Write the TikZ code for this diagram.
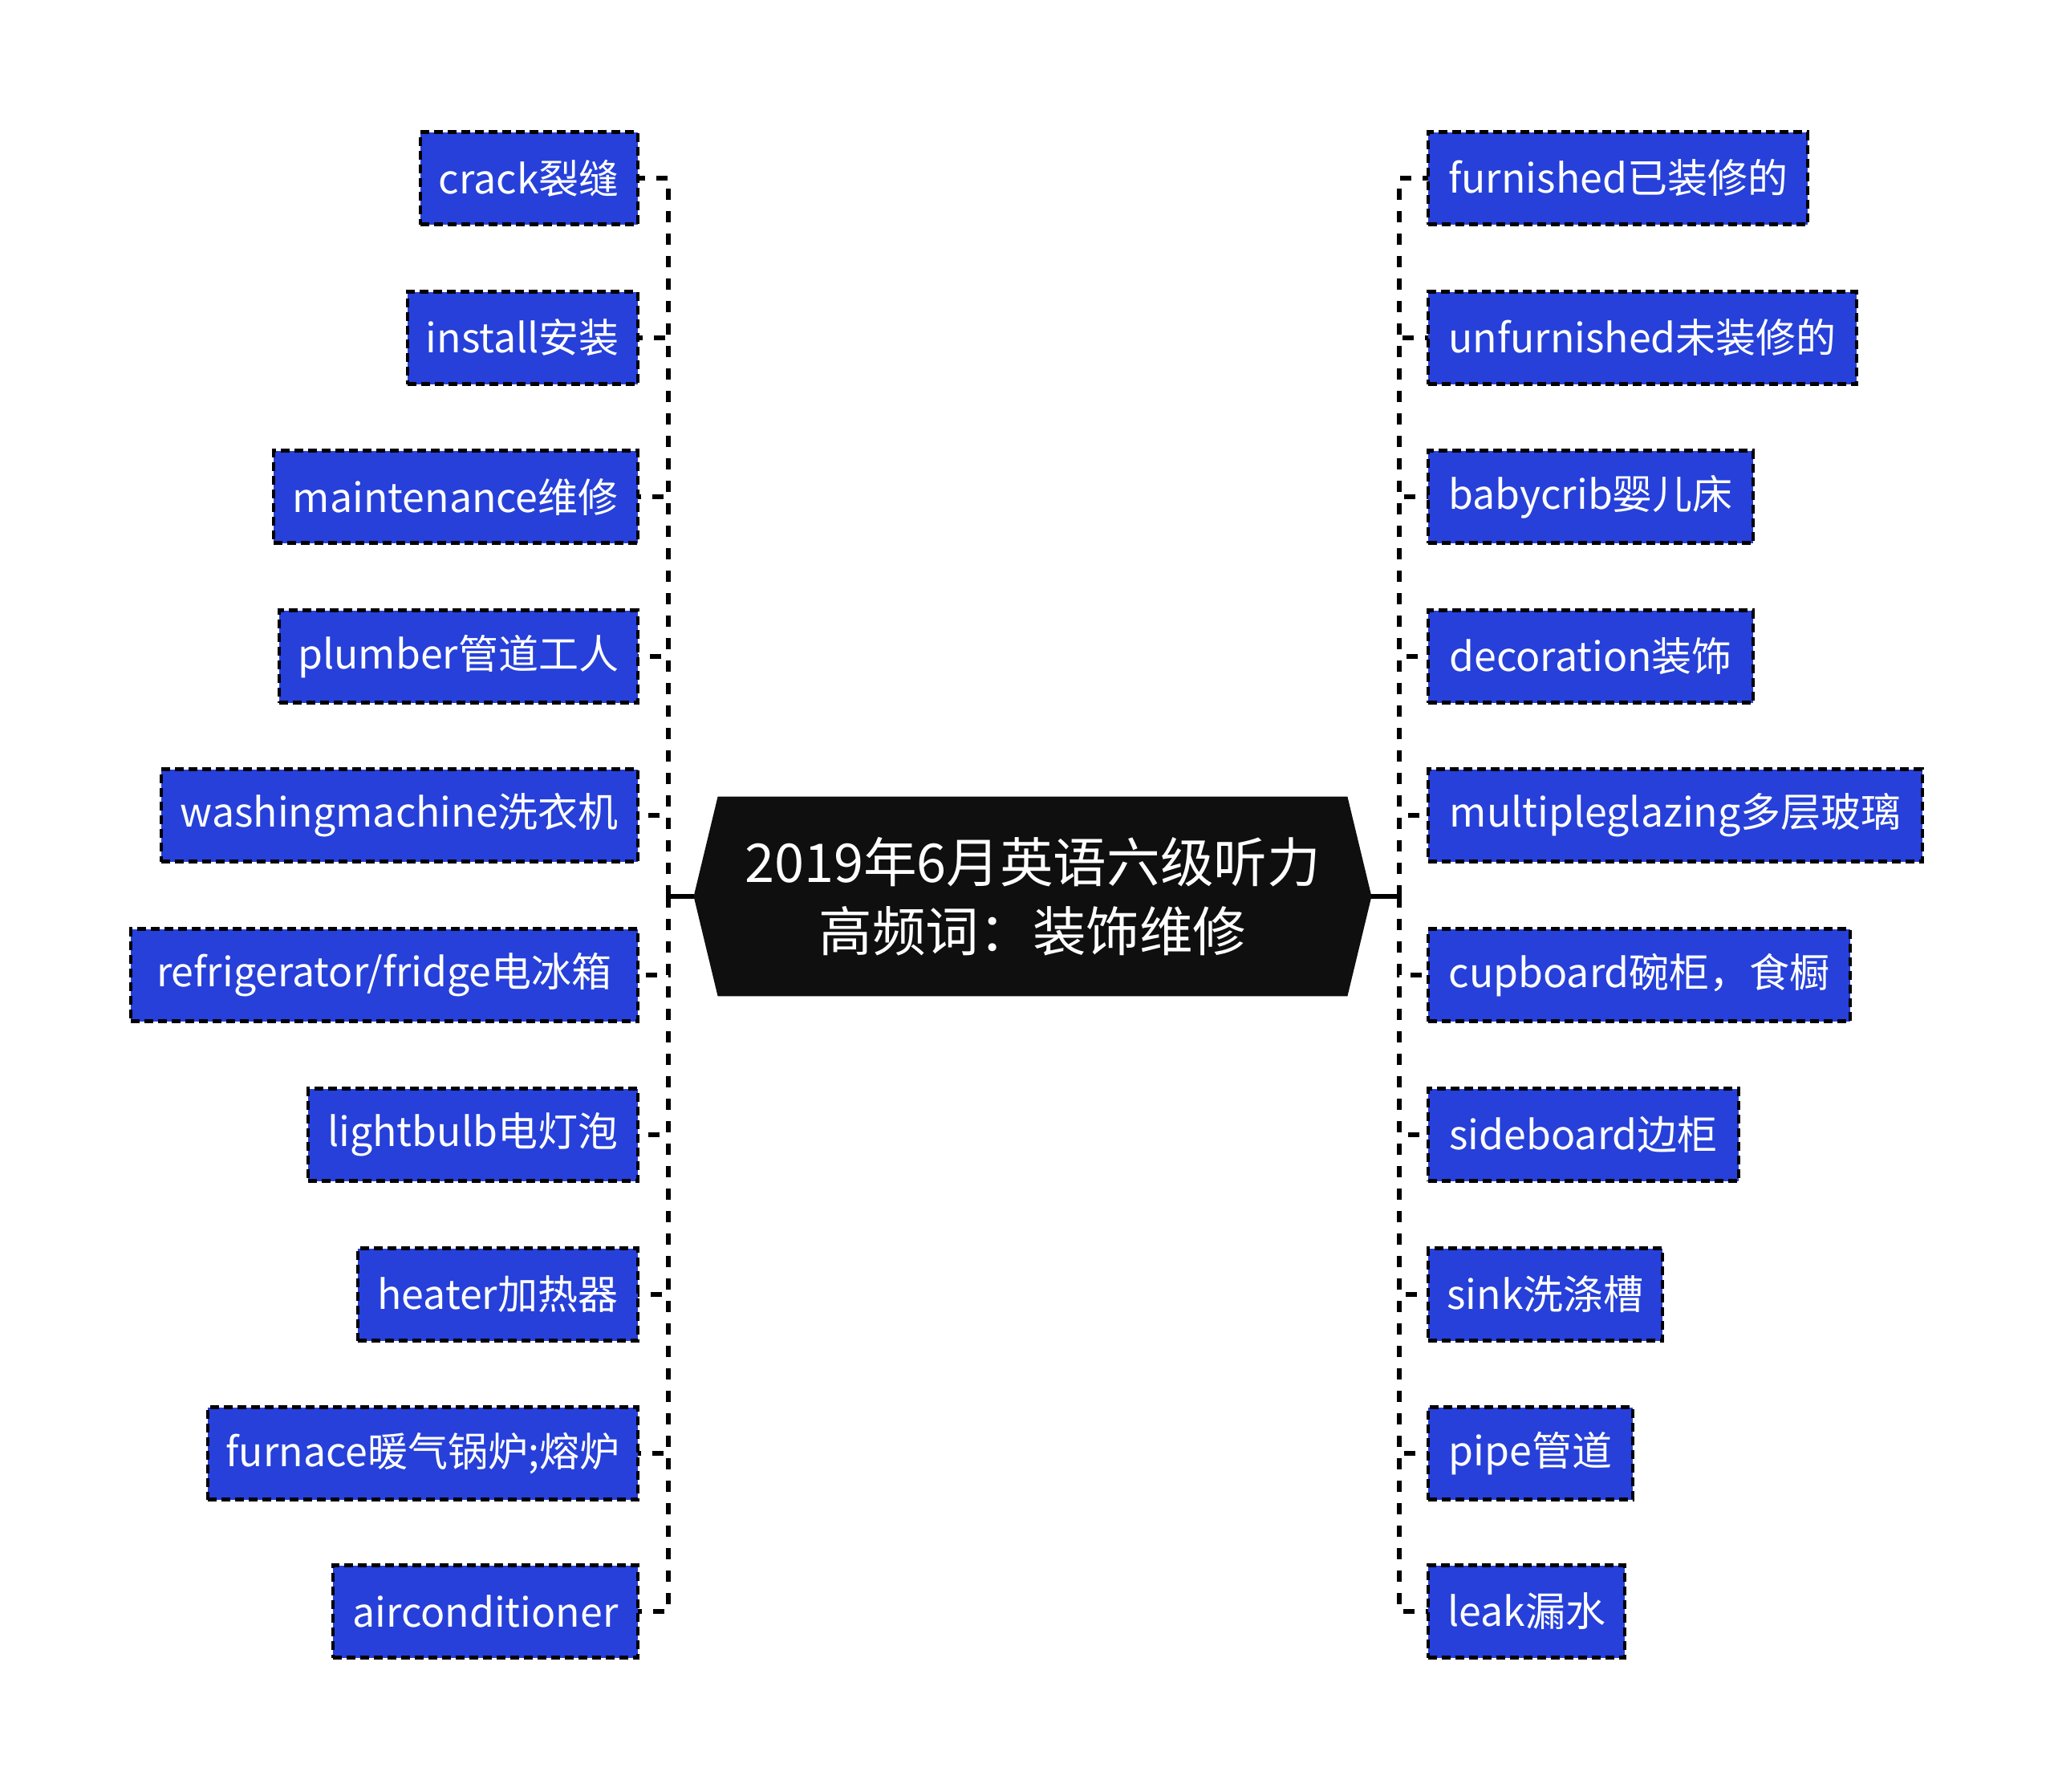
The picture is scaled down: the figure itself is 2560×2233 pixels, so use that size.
\documentclass[tikz,border=0pt]{standalone}
\usepackage{fontspec}
\setmainfont{Noto Sans CJK SC}
\usetikzlibrary{backgrounds}
\definecolor{boxblue}{RGB}{38,64,217}
\definecolor{centerblack}{RGB}{15,15,15}
\begin{document}
\begin{tikzpicture}[x=0.5pt,y=-0.5pt,
  leaf/.style={draw=black, fill=boxblue, line width=2.2pt, dash pattern=on 5.5pt off 3pt, text=white,
    font=\fontsize{25pt}{30pt}\selectfont, minimum height=57.5pt, inner sep=0pt},
  leafL/.style={leaf, anchor=east, minimum width=#1},
  leafR/.style={leaf, anchor=west, minimum width=#1},
  link/.style={line width=2.8pt, dash pattern=on 7pt off 7pt},
  stub/.style={line width=2.8pt}]
\useasboundingbox (0,0) rectangle (2560,2233);

\node[minimum width=422pt, minimum height=124pt, inner sep=0pt, text=white, align=center,
  font=\fontsize{33.3pt}{43pt}\selectfont] (c) at (1287,1117) {2019年6月英语六级听力\\高频词：装饰维修};
\begin{scope}[on background layer]
\fill[centerblack] (c.west) -- ([xshift=15pt]c.north west) -- ([xshift=-15pt]c.north east) -- (c.east)
  -- ([xshift=-15pt]c.south east) -- ([xshift=15pt]c.south west) -- cycle;
\end{scope}

\coordinate (tl) at (833,1117);
\coordinate (tr) at (1744,1117);

% left
\node[leafL=135.5pt] (l1) at (797,222) {crack裂缝};
\node[leafL=143.5pt] (l2) at (797,421) {install安装};
\node[leafL=227pt] (l3) at (797,619) {maintenance维修};
\node[leafL=223.5pt] (l4) at (797,818) {plumber管道工人};
\node[leafL=297pt] (l5) at (797,1016) {washingmachine洗衣机};
\node[leafL=316pt] (l6) at (797,1215) {refrigerator/fridge电冰箱};
\node[leafL=205.5pt] (l7) at (797,1414) {lightbulb电灯泡};
\node[leafL=174.5pt] (l8) at (797,1613) {heater加热器};
\node[leafL=268pt] (l9) at (797,1811) {furnace暖气锅炉;熔炉};
\node[leafL=190pt] (l10) at (797,2008) {airconditioner};

% right
\node[leafR=236.5pt] (r1) at (1778,222) {furnished已装修的};
\node[leafR=267pt] (r2) at (1778,421) {unfurnished未装修的};
\node[leafR=202.5pt] (r3) at (1778,619) {babycrib婴儿床};
\node[leafR=202.5pt] (r4) at (1778,818) {decoration装饰};
\node[leafR=308pt] (r5) at (1778,1016) {multipleglazing多层玻璃};
\node[leafR=263pt] (r6) at (1778,1215) {cupboard碗柜，食橱};
\node[leafR=193.5pt] (r7) at (1778,1414) {sideboard边柜};
\node[leafR=146pt] (r8) at (1778,1613) {sink洗涤槽};
\node[leafR=127.5pt] (r9) at (1778,1811) {pipe管道};
\node[leafR=122.5pt] (r10) at (1778,2008) {leak漏水};

\draw[stub] (c.west) -- (tl);
\draw[stub] (c.east) -- (tr);
\foreach \i in {1,...,10} {
  \draw[link] (tl) |- ([xshift=-1pt]l\i.east);
  \draw[link] (tr) |- ([xshift=1pt]r\i.west);
}
\end{tikzpicture}
\end{document}
